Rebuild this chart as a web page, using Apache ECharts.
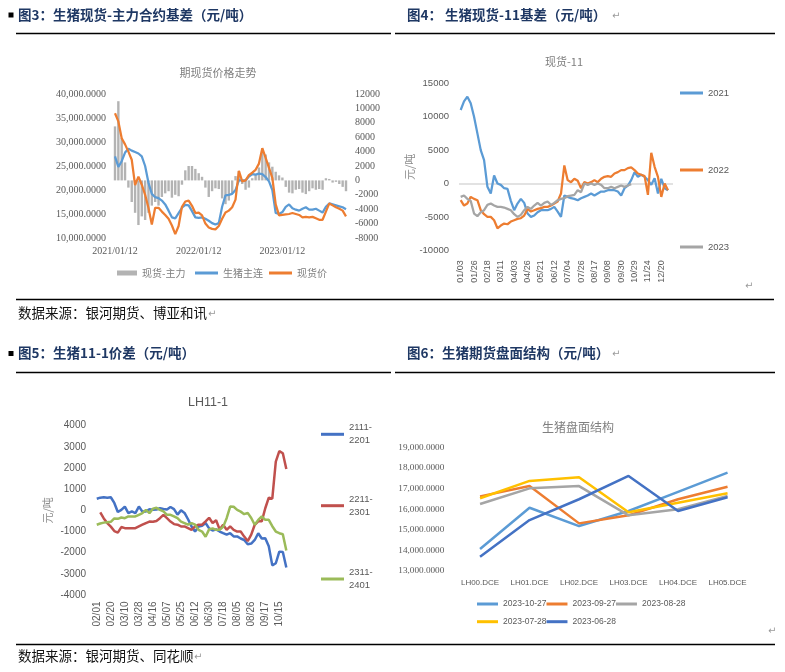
<!DOCTYPE html>
<html><head><meta charset="utf-8">
<script src="https://cdn.jsdelivr.net/npm/echarts@6/dist/echarts.min.js"></script>
<style>html,body{margin:0;padding:0;background:#fff}#c{width:785px;height:672px}</style>
</head><body><div id="c"></div>
<script>
// ---------- Chart 1: 期现货价格走势 ----------
const c1TickLabels = ['2021/01/12','2022/01/12','2023/01/12'];
const c1Basis = [7500,11000,5900,2500,-1000,-3000,-4500,-6200,-5000,-5500,
  -4500,-3500,-3000,-3500,-2300,-1800,-1500,-2400,-2000,-2200,
  -600,1400,2000,2000,1600,1000,500,-1000,-2300,-1500,
  -1100,-1200,-2500,-3300,-2800,-1800,600,1300,-500,-1300,
  -1000,300,800,1800,4400,3600,2500,1900,1200,700,
  400,-900,-1700,-1800,-1300,-1200,-1700,-1900,-1500,-1100,
  -1300,-1200,-1300,300,200,-300,-200,-500,-900,-1500];
const c1Futures = [27000,24800,26000,27800,28600,28200,27900,27600,27000,25000,
  21500,19200,18500,18300,17800,17000,15700,14300,14100,15200,
  16300,16900,16800,15600,14300,14200,14300,14000,13600,13100,
  12800,13100,16500,18900,19000,19200,20000,22000,22000,22000,
  22800,23300,23200,23400,23300,22700,21800,20000,15200,15000,
  15400,16500,17000,16200,15900,15700,16100,16400,15900,15900,
  16100,15700,15300,16500,17200,17000,16800,16600,16400,16000];
const c1Spot = [36000,34300,30800,29500,28000,26300,21000,22800,21100,19000,
  16250,12800,16300,16300,15500,14800,14000,12600,10800,12500,
  16500,17600,17800,16700,15200,15300,14700,13000,12200,11900,
  11800,12500,14000,15300,15700,16400,18000,24000,21800,22000,
  23100,23600,24200,25500,28700,26700,24600,22500,17000,14700,
  14800,14900,15000,15200,15000,14800,14300,14400,14300,14400,
  14100,13800,13800,15500,17200,16800,16400,16100,15700,14500];

// ---------- Chart 2: 现货-11 ----------
const c2TickLabels = ['01/03','01/26','02/18','03/11','04/03','04/26','05/21','06/12','07/04','07/26','08/17','09/08','09/30','10/29','11/24','12/20'];
const c2Y2021 = [11000,12300,13000,12000,10000,7500,5000,3500,-500,-1500,
  1200,0,-200,-700,-800,-2600,-4000,-3000,-2300,-2900,
  -4500,-5000,-4800,-4300,-4000,-4000,-4000,-3800,-3500,-4200,
  -5000,-1800,-2000,-2200,-2300,-2500,-2200,-2000,-1800,-1500,
  -1800,-1500,-1200,-1200,-1000,-1000,-1000,-1200,-1800,-700,
  -300,500,1700,1000,1300,1000,500,-200,800,-1500,
  700,-700,-1000];
const c2Y2022 = [-2500,-3300,-3000,-2000,-2300,-2500,-4000,-4600,-5000,-5000,
  -5500,-6700,-6300,-6000,-6100,-5700,-5500,-5300,-5200,-4800,
  -3800,-4200,-4000,-3800,-3700,-3500,-3500,-3300,-3000,-2700,
  -1500,2700,500,200,700,400,-700,200,0,200,
  500,200,700,1000,1100,1000,1500,1700,2000,2000,
  2300,2400,2000,1500,1300,1100,-1700,4600,2500,1000,
  -2000,0,-1000];
const c2Y2023 = [-2000,-1800,-2300,-2600,-4500,-4900,-4300,-4000,-3200,-3000,
  -3300,-3500,-3500,-3600,-3800,-4000,-4600,-5000,-4700,-4000,
  -3500,-3800,-3300,-2900,-3300,-2900,-2700,-3200,-2900,-2500,
  -2300,-2200,-1900,-1800,-1700,-1000,-1300,0,-200,0,
  -200,0,-200,-700,-700,-500,-700,-500,-300,-500,
  -300,-100];

// ---------- Chart 3: LH11-1 ----------
const c3TickLabels = ['02/01','02/20','03/10','03/28','04/16','05/07','05/25','06/12','06/30','07/18','08/05','08/26','09/17','10/15'];
const c3S2111 = [550,600,620,600,620,350,-80,20,180,-130,
  -50,-130,180,-60,-50,50,30,40,100,60,
  40,160,60,-200,0,-120,-420,-760,-1000,-770,
  -730,-600,-850,-950,-900,-1000,-1080,-1150,-1080,-1230,
  -1230,-1330,-1400,-1600,-1570,-1400,-1080,-1330,-1320,-1700,
  -2600,-2500,-1950,-1970,-2700];
const c3S2211 = [null,-100,-380,-600,-770,-980,-1050,-790,-840,-840,
  -840,-840,-760,-680,-600,-530,-540,-500,-370,-210,
  -370,-530,-650,-680,-760,-760,-840,-920,-760,-680,
  -680,-520,-350,-600,-470,-900,-680,-920,-760,-920,
  -1000,-1000,-1240,-1450,-1150,-680,-520,-520,100,600,
  550,2300,2800,2700,1950];
const c3S2311 = [-680,-620,-580,-560,-540,-380,-400,-340,-370,-290,
  -290,-290,-210,-130,20,-130,80,120,20,-50,
  -210,-210,-290,-370,-530,-600,-680,-600,-680,-920,
  -1000,-1250,-900,-850,-920,-920,-780,-370,180,170,
  20,-60,-180,-120,-360,-680,-450,-290,-450,-450,
  -750,-1000,-1080,-1130,-1900];

// ---------- Chart 4: 生猪盘面结构 ----------
const c4Categories = ['LH00.DCE','LH01.DCE','LH02.DCE','LH03.DCE','LH04.DCE','LH05.DCE'];
const c4D1027 = [14070,16070,15180,15910,16840,17770];
const c4D0927 = [16620,17120,15310,15700,16480,17090];
const c4D0828 = [16250,17010,17120,15700,16000,16640];
const c4D0728 = [16530,17370,17550,15850,16310,16770];
const c4D0628 = [13690,15470,16480,17610,15910,16580];

// ---------- build categories ----------
const pad = n => (n < 10 ? '0' : '') + n;
const c1Start = Date.UTC(2021, 0, 12);
const c1Categories = c1Spot.map((_, i) => {
  const d = new Date(c1Start + Math.round(i * 365 / 25) * 86400000);
  return d.getUTCFullYear() + '/' + pad(d.getUTCMonth() + 1) + '/' + pad(d.getUTCDate());
});
const expand = ticks => { const out = []; ticks.forEach(t => { out.push(t); for (let k = 1; k < 4; k++) out.push(t + '\u200b' + k); }); return out; };
const c2Categories = expand(c2TickLabels);
const c3Categories = expand(c3TickLabels);

const axisGray = '#595959';
const serif = 'Liberation Serif';
const sans = 'Liberation Sans';
const cjk = 'Noto Sans CJK SC';
const numFmt = v => Number(v).toLocaleString('en-US', {minimumFractionDigits: 4, maximumFractionDigits: 4});
const plainFmt = v => String(v);
const T = 'rgba(0,0,0,0)';

const txt = (x, y, text, font, fill, align) => ({
  type: 'text', x: x, y: y, silent: true,
  style: {text: text, font: font, fill: fill, align: align || 'left', verticalAlign: 'middle', textAlign: align || 'left', textVerticalAlign: 'middle'}
});
const hr = (x1, x2, y) => ({type: 'line', silent: true, shape: {x1: x1, y1: y, x2: x2, y2: y}, style: {stroke: '#000', lineWidth: 1.5}});
const sq = (x, y) => ({type: 'rect', silent: true, shape: {x: x, y: y, width: 5, height: 5}, style: {fill: '#000'}});
const headFont = "bold 13.5px 'Noto Sans CJK SC'";
const headColor = '#1f3864';
const retFont = "10px 'DejaVu Sans'";
const retColor = '#9a9a9a';

const lineS = (name, data, color, xi, yi, w) => ({
  name: name, type: 'line', xAxisIndex: xi, yAxisIndex: yi, data: data,
  symbol: 'none', showSymbol: false, lineStyle: {width: w, color: color}, itemStyle: {color: color}
});

const legendBase = (data, left, top, extra) => Object.assign({
  data: data, left: left, top: top, padding: 0, icon: 'rect', itemWidth: 23, itemHeight: 3,
  selectedMode: false, orient: 'horizontal',
  textStyle: {fontFamily: sans, fontSize: 9.5, color: axisGray, lineHeight: 12}
}, extra || {});

const option = {
  animation: false,
  backgroundColor: '#fff',
  textStyle: {fontFamily: sans},
  grid: [
    {left: 115, top: 94, width: 231, height: 144},
    {left: 459, top: 83.3, width: 214, height: 167},
    {left: 95, top: 425.7, width: 196.6, height: 169.3},
    {left: 455.3, top: 447.3, width: 297, height: 123.7}
  ],
  xAxis: [
    {gridIndex: 0, type: 'category', data: c1Categories, boundaryGap: false,
      axisLine: {show: false}, axisTick: {show: false},
      axisLabel: {interval: 24, margin: 8, fontFamily: serif, fontSize: 10, color: axisGray}},
    {gridIndex: 1, type: 'category', data: c2Categories, boundaryGap: true,
      axisLine: {show: false}, axisTick: {show: false},
      axisLabel: {interval: 3, rotate: 90, margin: 10, fontSize: 9, color: axisGray}},
    {gridIndex: 2, type: 'category', data: c3Categories, boundaryGap: true,
      axisLine: {show: false}, axisTick: {show: false},
      axisLabel: {interval: 3, rotate: 90, margin: 6.5, fontSize: 10, color: axisGray}},
    {gridIndex: 3, type: 'category', data: c4Categories, boundaryGap: true,
      axisLine: {show: false}, axisTick: {show: false},
      axisLabel: {interval: 0, margin: 8, fontSize: 8, color: axisGray}}
  ],
  yAxis: [
    {gridIndex: 0, type: 'value', position: 'left', min: 10000, max: 40000, interval: 5000,
      splitLine: {show: false}, axisLine: {show: false}, axisTick: {show: false},
      axisLabel: {formatter: numFmt, margin: 9, fontFamily: serif, fontSize: 10, color: axisGray}},
    {gridIndex: 0, type: 'value', position: 'right', min: -8000, max: 12000, interval: 2000,
      splitLine: {show: false}, axisLine: {show: false}, axisTick: {show: false},
      axisLabel: {formatter: plainFmt, margin: 9, fontFamily: serif, fontSize: 10, color: axisGray}},
    {gridIndex: 1, type: 'value', min: -10000, max: 15000, interval: 5000,
      name: '元/吨', nameLocation: 'middle', nameRotate: 90, nameGap: 44,
      nameTextStyle: {fontFamily: cjk, fontSize: 11, color: '#8c8c8c'},
      splitLine: {show: true, lineStyle: {color: [T, T, '#d9d9d9', T, T, T], width: 1.5}},
      axisLine: {show: false}, axisTick: {show: false},
      axisLabel: {formatter: plainFmt, margin: 10, fontSize: 9.5, color: axisGray}},
    {gridIndex: 2, type: 'value', min: -4000, max: 4000, interval: 1000,
      name: '元/吨', nameLocation: 'middle', nameRotate: 90, nameGap: 42,
      nameTextStyle: {fontFamily: cjk, fontSize: 11, color: '#8c8c8c'},
      splitLine: {show: false}, axisLine: {show: false}, axisTick: {show: false},
      axisLabel: {formatter: plainFmt, margin: 9, fontSize: 10, color: axisGray}},
    {gridIndex: 3, type: 'value', min: 13000, max: 19000, interval: 1000,
      splitLine: {show: false}, axisLine: {show: false}, axisTick: {show: false},
      axisLabel: {formatter: numFmt, margin: 11, fontFamily: serif, fontSize: 9.2, color: axisGray}}
  ],
  legend: [
    legendBase(['现货-主力'], 117, 267, {itemWidth: 20, itemHeight: 5, textStyle: {fontFamily: cjk, fontSize: 10, color: '#7f7f7f', lineHeight: 12}}),
    legendBase(['生猪主连'], 195, 267, {textStyle: {fontFamily: cjk, fontSize: 10, color: '#7f7f7f', lineHeight: 12}}),
    legendBase(['现货价'], 269, 267, {textStyle: {fontFamily: cjk, fontSize: 10, color: '#7f7f7f', lineHeight: 12}}),
    legendBase(['2021'], 680, 87),
    legendBase(['2022'], 680, 164),
    legendBase(['2023'], 680, 241),
    legendBase(['2111-2201'], 321, 414.8, {formatter: n => n.replace('-', '-\n'), textStyle: {fontFamily: sans, fontSize: 9.5, color: axisGray, lineHeight: 13, padding: [13, 0, 0, 0]}}),
    legendBase(['2211-2301'], 321, 486.2, {formatter: n => n.replace('-', '-\n'), textStyle: {fontFamily: sans, fontSize: 9.5, color: axisGray, lineHeight: 13, padding: [13, 0, 0, 0]}}),
    legendBase(['2311-2401'], 321, 559.5, {formatter: n => n.replace('-', '-\n'), textStyle: {fontFamily: sans, fontSize: 9.5, color: axisGray, lineHeight: 13, padding: [13, 0, 0, 0]}}),
    legendBase(['2023-10-27', '2023-09-27', '2023-08-28'], 477, 598, {itemGap: 0, itemWidth: 21, textStyle: {fontFamily: sans, fontSize: 8.5, color: axisGray, lineHeight: 12}}),
    legendBase(['2023-07-28', '2023-06-28'], 477, 615.7, {itemGap: 0, itemWidth: 21, textStyle: {fontFamily: sans, fontSize: 8.5, color: axisGray, lineHeight: 12}})
  ],
  series: [
    {name: '现货-主力', type: 'bar', xAxisIndex: 0, yAxisIndex: 1, data: c1Basis, barWidth: 2.4, itemStyle: {color: '#b3b3b3'}},
    lineS('生猪主连', c1Futures, '#5b9bd5', 0, 0, 2.25),
    lineS('现货价', c1Spot, '#ed7d31', 0, 0, 2.25),
    lineS('2021', c2Y2021, '#5b9bd5', 1, 2, 2.25),
    lineS('2022', c2Y2022, '#ed7d31', 1, 2, 2.25),
    lineS('2023', c2Y2023, '#a5a5a5', 1, 2, 2.25),
    lineS('2111-2201', c3S2111, '#4472c4', 2, 3, 2.5),
    lineS('2211-2301', c3S2211, '#c0504d', 2, 3, 2.5),
    lineS('2311-2401', c3S2311, '#9bbb59', 2, 3, 2.5),
    lineS('2023-10-27', c4D1027, '#5b9bd5', 3, 4, 2.5),
    lineS('2023-09-27', c4D0927, '#ed7d31', 3, 4, 2.5),
    lineS('2023-08-28', c4D0828, '#a5a5a5', 3, 4, 2.5),
    lineS('2023-07-28', c4D0728, '#ffc000', 3, 4, 2.5),
    lineS('2023-06-28', c4D0628, '#4472c4', 3, 4, 2.5)
  ],
  graphic: [
    sq(8.5, 12.5),
    txt(18, 15, '图3：生猪现货-主力合约基差（元/吨）', headFont, headColor),
    txt(407, 15, '图4： 生猪现货-11基差（元/吨）', headFont, headColor),
    txt(612, 16, '↵', retFont, retColor),
    hr(16, 391, 33.5), hr(395, 775, 33.5),
    txt(218, 73, '期现货价格走势', "11px 'Noto Sans CJK SC'", '#7f7f7f', 'center'),
    txt(564, 62, '现货-11', "11px 'Noto Sans CJK SC'", '#7f7f7f', 'center'),
    txt(745, 286, '↵', retFont, retColor),
    hr(16, 774, 299.5),
    txt(18, 313, '数据来源：银河期货、博亚和讯', "13.5px 'Noto Sans CJK SC'", '#111'),
    txt(208, 314, '↵', retFont, retColor),
    sq(8.5, 351),
    txt(18, 353.3, '图5：生猪11-1价差（元/吨）', headFont, headColor),
    txt(407, 353.3, '图6：生猪期货盘面结构（元/吨）', headFont, headColor),
    txt(612, 354, '↵', retFont, retColor),
    hr(16, 391, 372.5), hr(395, 775, 372.5),
    txt(208, 403, 'LH11-1', "12.5px 'Liberation Sans'", '#595959', 'center'),
    txt(578, 427, '生猪盘面结构', "12px 'Noto Sans CJK SC'", '#7f7f7f', 'center'),
    txt(768, 631, '↵', retFont, retColor),
    hr(16, 775, 644.5),
    txt(18, 656, '数据来源：银河期货、同花顺', "13.5px 'Noto Sans CJK SC'", '#111'),
    txt(194, 657, '↵', retFont, retColor)
  ]
};

const chart = echarts.init(document.getElementById('c'), null, {renderer: 'canvas', width: 785, height: 672});
chart.setOption(option);
</script></body></html>
